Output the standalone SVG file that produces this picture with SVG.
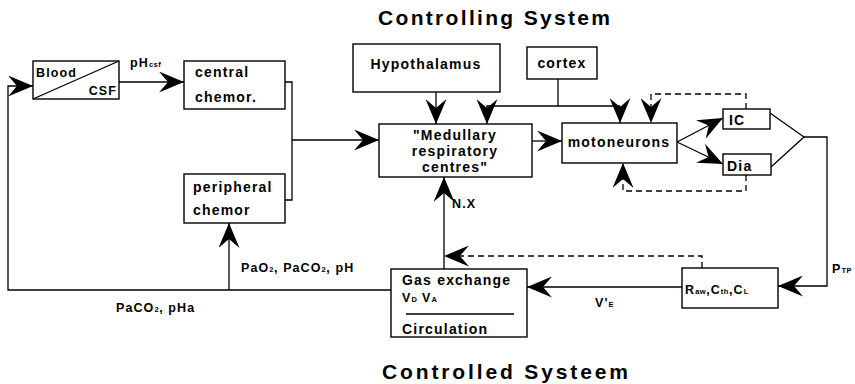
<svg xmlns="http://www.w3.org/2000/svg" width="855" height="384" viewBox="0 0 855 384">
<style>
  .box { fill: #fff; stroke: #000; stroke-width: 1.4; }
  .t { font-family: "Liberation Sans", Arial, sans-serif; font-weight: bold; font-size: 14px; letter-spacing: 1.2px; fill: #000; }
  .s { font-size: 12.5px; letter-spacing: 1.1px; }
  .sub { font-size: 7.5px; letter-spacing: 0.5px; }
  .title { font-family: "Liberation Sans", Arial, sans-serif; font-weight: bold; font-size: 21px; fill: #000; }
  .c { fill: none; stroke: #000; stroke-width: 1.3; }
  .d { fill: none; stroke: #000; stroke-width: 1.3; stroke-dasharray: 6 4; }
  .a { marker-end: url(#arr); }
</style>
<defs>
  <marker id="arr" markerUnits="userSpaceOnUse" markerWidth="25" markerHeight="21" viewBox="0 0 25 21" refX="25" refY="10.5" orient="auto">
    <path d="M0,0 L25,10.5 L0,21 L9,10.5 Z" fill="#000"/>
  </marker>
</defs>

<text class="title" x="378" y="25" textLength="232" lengthAdjust="spacing">Controlling System</text>
<text class="title" x="382" y="379" textLength="246" lengthAdjust="spacing">Controlled Systeem</text>

<g id="connectors">
  <path class="c a" d="M391,290 H8 V86 H33"/>
  <path class="c a" d="M229,290 V223"/>
  <path class="c a" d="M119,82 H184"/>
  <path class="c" d="M285,82 H292 V200 H285"/>
  <path class="c a" d="M292,140 H379"/>
  <path class="c a" d="M436,92 V124"/>
  <path class="c" d="M558,79 V106"/>
  <path class="c a" d="M620,106 H487 V124"/>
  <path class="c a" d="M620,106 V123"/>
  <path class="c a" d="M532,141 H562"/>
  <path class="c a" d="M677,142 L723,118"/>
  <path class="c a" d="M677,142 L723,164"/>
  <path class="c" d="M770,113 L804,137 L771,167"/>
  <path class="c a" d="M804,137 H827 V286 H778"/>
  <path class="c a" d="M682,287 H527"/>
  <path class="c a" d="M444,269 V177"/>
  <path class="d a" d="M746,109 V94 H651 V123"/>
  <path class="d a" d="M746,175 V191 H623 V163"/>
  <path class="d a" d="M702,268 V256 H444"/>
</g>

<g id="blood-csf">
  <rect class="box" x="33" y="61" width="86" height="38"/>
  <line class="c" x1="33" y1="99" x2="119" y2="61"/>
  <text class="t s" x="36" y="77">Blood</text>
  <text class="t s" x="117" y="95" text-anchor="end">CSF</text>
</g>
<text class="t s" x="130" y="67">pH<tspan class="sub">csf</tspan></text>

<g id="central-chemor">
  <rect class="box" x="184" y="61" width="101" height="48"/>
  <text class="t" x="195" y="77">central</text>
  <text class="t" x="195" y="102">chemor.</text>
</g>

<g id="peripheral-chemor">
  <rect class="box" x="184" y="174" width="101" height="49"/>
  <text class="t" x="193" y="192">peripheral</text>
  <text class="t" x="193" y="215">chemor</text>
</g>

<g id="hypothalamus">
  <rect class="box" x="353" y="44" width="147" height="48"/>
  <text class="t" x="426" y="69" text-anchor="middle">Hypothalamus</text>
</g>

<g id="cortex">
  <rect class="box" x="527" y="47" width="70" height="32"/>
  <text class="t" x="562" y="68" text-anchor="middle">cortex</text>
</g>

<g id="medullary">
  <rect class="box" x="379" y="124" width="153" height="53"/>
  <text class="t" x="455" y="140" text-anchor="middle">"Medullary</text>
  <text class="t" x="455" y="156" text-anchor="middle">respiratory</text>
  <text class="t" x="455" y="172" text-anchor="middle">centres"</text>
</g>

<g id="motoneurons">
  <rect class="box" x="562" y="123" width="115" height="40"/>
  <text class="t" x="619" y="147" text-anchor="middle">motoneurons</text>
</g>

<g id="ic">
  <rect class="box" x="723" y="109" width="47" height="20"/>
  <text class="t" x="729" y="125">IC</text>
</g>

<g id="dia">
  <rect class="box" x="723" y="154" width="48" height="21"/>
  <text class="t" x="727" y="171">Dia</text>
</g>

<g id="raw">
  <rect class="box" x="682" y="268" width="96" height="40"/>
  <text class="t s" x="685" y="294">R<tspan class="sub">aw</tspan>,C<tspan class="sub">th</tspan>,C<tspan class="sub">L</tspan></text>
</g>

<g id="gas-exchange">
  <rect class="box" x="391" y="269" width="136" height="68"/>
  <text class="t" x="402" y="285">Gas exchange</text>
  <text class="t s" x="402" y="302">V<tspan class="sub">D</tspan> V<tspan class="sub">A</tspan></text>
  <line class="c" x1="406" y1="314" x2="514" y2="314"/>
  <text class="t" x="402" y="334">Circulation</text>
</g>

<text class="t s" x="452" y="208">N.X</text>
<text class="t s" x="241" y="272">PaO<tspan class="sub">2</tspan>, PaCO<tspan class="sub">2</tspan>, pH</text>
<text class="t s" x="116" y="312">PaCO<tspan class="sub">2</tspan>, pHa</text>
<text class="t s" x="595" y="307">V'<tspan class="sub">E</tspan></text>
<text class="t s" x="832" y="273">P<tspan class="sub">TP</tspan></text>
</svg>
